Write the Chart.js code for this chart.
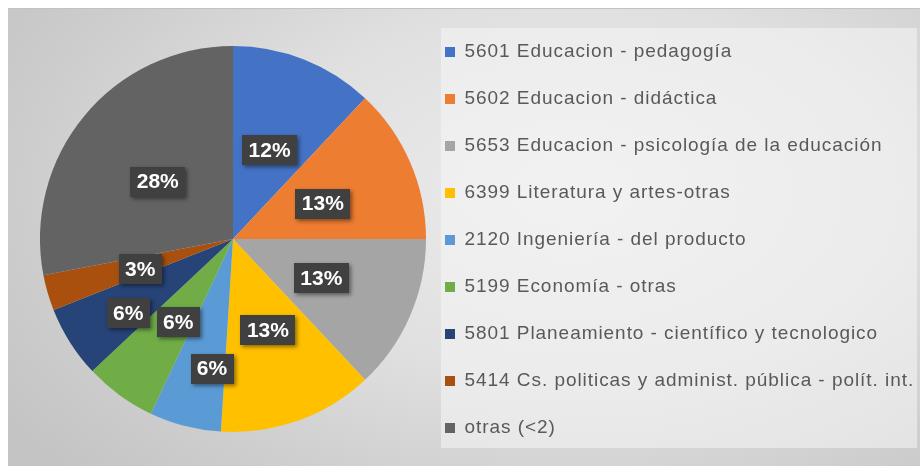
<!DOCTYPE html>
<html lang="es">
<head>
  <meta charset="UTF-8" />
  <title>Distribución por disciplina</title>
  <script src="https://cdn.jsdelivr.net/npm/chart.js"></script>
  <style>
    html, body { margin: 0; padding: 0; background: #fff; }
    #marco {
      position: absolute; left: 8px; top: 8px; width: 912px; height: 458px;
      background:
        radial-gradient(ellipse 75% 90% at 62% 40%, rgba(236,236,236,1) 0%, rgba(224,224,224,1) 45%, rgba(205,205,205,1) 80%, rgba(196,196,196,1) 100%);
      box-shadow: inset 0 1px 0 #c2c2c2;
    }
    #grafico { display: block; }
  </style>
</head>
<body>
  <div id="marco">
    <canvas id="grafico" width="912" height="458"></canvas>
  </div>

  <script>
    const categorias = [
      "5601 Educacion - pedagogía",
      "5602 Educacion - didáctica",
      "5653 Educacion - psicología de la educación",
      "6399 Literatura y artes-otras",
      "2120 Ingeniería - del producto",
      "5199 Economía - otras",
      "5801 Planeamiento - científico y tecnologico",
      "5414 Cs. politicas y administ. pública - polít. int.",
      "otras (<2)"
    ];
    const porcentajes = [12, 13, 13, 13, 6, 6, 6, 3, 28];
    const colores = ["#4472C4", "#ED7D31", "#A5A5A5", "#FFC000", "#5B9BD5", "#70AD47", "#264478", "#A9500F", "#636363"];

    // ubicación de cada etiqueta: fracción del radio y corrimiento angular (grados)
    const radioEtiqueta = [0.50, 0.50, 0.50, 0.505, 0.68, 0.515, 0.665, 0.505, 0.49];
    const giroEtiqueta = [0.7, 1.9, 0.3, -1.2, -5.2, -2.5, -2.8, -1.7, -2.3];

    // espaciado de letras como en la leyenda original
    const espaciado = {
      id: "espaciado",
      beforeUpdate(chart) { chart.ctx.letterSpacing = "0.95px"; },
      beforeDraw(chart) { chart.ctx.letterSpacing = "0.95px"; }
    };

    // la torta ocupa un cuadrado a la izquierda y la leyenda arranca a 19px de ella
    const areaTorta = {
      id: "areaTorta",
      afterLayout(chart) {
        const a = chart.chartArea;
        a.top = 38;
        a.bottom = chart.height - 34;
        a.height = a.bottom - a.top;
        a.right = a.left + a.height;
        a.width = a.height;
        const lg = chart.legend;
        lg.left = a.right + 19 - lg.options.labels.padding;
        lg.right = chart.width;
        lg.width = lg.right - lg.left;
      }
    };

    // recuadro claro detrás de la leyenda
    const fondoLeyenda = {
      id: "fondoLeyenda",
      beforeDraw(chart) {
        const l = chart.legend;
        const ctx = chart.ctx;
        ctx.save();
        ctx.fillStyle = "rgba(245,245,245,0.55)";
        ctx.fillRect(l.left + 24, 20, chart.width - l.left - 27, 420);
        ctx.restore();
      }
    };

    // porcentajes en recuadros oscuros con sombra
    const etiquetas = {
      id: "etiquetas",
      afterDatasetsDraw(chart) {
        const ctx = chart.ctx;
        const arcos = chart.getDatasetMeta(0).data;
        ctx.save();
        ctx.letterSpacing = "0px";
        ctx.font = "bold 21px 'Liberation Sans', Arial, sans-serif";
        ctx.textAlign = "center";
        ctx.textBaseline = "middle";
        arcos.forEach((arco, i) => {
          const p = arco.getProps(["x", "y", "startAngle", "endAngle", "outerRadius"], true);
          const ang = (p.startAngle + p.endAngle) / 2 + giroEtiqueta[i] * Math.PI / 180;
          const r = p.outerRadius * radioEtiqueta[i];
          const cx = p.x + Math.cos(ang) * r;
          const cy = p.y + Math.sin(ang) * r;
          const texto = porcentajes[i] + "%";
          const w = Math.round(ctx.measureText(texto).width + 13);
          const h = 30;
          ctx.shadowColor = "rgba(0,0,0,0.45)";
          ctx.shadowBlur = 4;
          ctx.shadowOffsetX = 2;
          ctx.shadowOffsetY = 2;
          ctx.fillStyle = "#404040";
          ctx.fillRect(Math.round(cx - w / 2), Math.round(cy - h / 2), w, h);
          ctx.shadowColor = "transparent";
          ctx.fillStyle = "#ffffff";
          ctx.fillText(texto, cx, cy + 1);
        });
        ctx.restore();
      }
    };

    new Chart(document.getElementById("grafico"), {
      type: "pie",
      data: {
        labels: categorias,
        datasets: [{
          data: porcentajes,
          backgroundColor: colores,
          borderWidth: 0
        }]
      },
      options: {
        responsive: false,
        animation: false,
        layout: { padding: { left: 32, top: 6, bottom: 0, right: 0 } },
        plugins: {
          legend: {
            position: "right",
            align: "center",
            labels: {
              boxWidth: 10,
              boxHeight: 10,
              padding: 28,
              color: "#595959",
              font: { family: "'Liberation Sans', Arial, sans-serif", size: 19 }
            }
          },
          tooltip: { enabled: false }
        }
      },
      plugins: [espaciado, areaTorta, fondoLeyenda, etiquetas]
    });
  </script>
</body>
</html>
